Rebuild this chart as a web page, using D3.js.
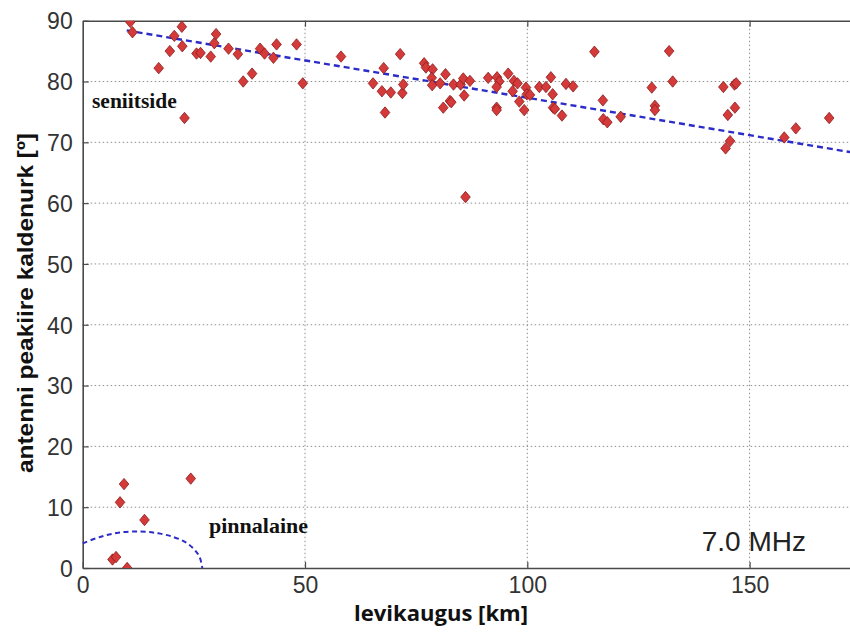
<!DOCTYPE html>
<html>
<head>
<meta charset="utf-8">
<script src="https://cdn.jsdelivr.net/npm/d3@7"></script>
<style>
  body { margin: 0; background: #fff; }
  svg { display: block; }
</style>
</head>
<body>
<script>
// measured points: distance [km] and elevation angle [deg]
var distKm = [10.7, 11.2, 17.1, 19.6, 20.6, 22.3, 22.4, 22.9, 25.6, 26.5,
  28.8, 29.6, 30.0, 32.8, 34.9, 36.1, 38.1, 39.9, 40.9, 42.9,
  43.6, 48.1, 49.5, 58.1, 65.3, 67.3, 67.7, 68.0, 69.3, 71.4,
  71.9, 72.1, 76.8, 77.2, 78.7, 78.5, 78.6, 80.4, 81.6, 81.1,
  82.6, 82.9, 83.4, 85.0, 85.6, 85.8, 87.1, 86.1, 91.2, 93.2,
  93.7, 93.1, 93.1, 93.1, 95.7, 97.0, 97.8, 96.7, 98.2, 99.3,
  99.7, 99.9, 100.6, 102.7, 104.2, 105.3, 105.7, 105.8, 106.2, 107.8,
  108.7, 110.3, 115.1, 117.0, 117.1, 118.0, 121.0, 128.0, 128.7, 128.7,
  131.9, 132.7, 144.1, 145.1, 145.6, 144.6, 146.6, 147.0, 146.7, 157.8,
  160.4, 167.9,
  6.7, 7.5, 8.4, 9.3, 10.0, 13.9, 24.3];
var elevDeg = [89.8, 88.1, 82.2, 85.0, 87.5, 89.0, 85.8, 74.0, 84.6, 84.7,
  84.1, 86.3, 87.8, 85.4, 84.5, 80.0, 81.3, 85.4, 84.6, 83.9,
  86.1, 86.1, 79.7, 84.1, 79.7, 78.4, 82.2, 74.9, 78.2, 84.5,
  78.1, 79.5, 83.0, 82.3, 82.0, 80.6, 79.4, 79.7, 81.2, 75.7,
  76.8, 76.6, 79.5, 79.5, 80.5, 77.7, 80.1, 61.0, 80.6, 80.7,
  80.0, 79.1, 75.7, 75.3, 81.3, 80.1, 79.7, 78.4, 76.7, 75.3,
  79.0, 77.9, 77.8, 79.1, 79.1, 80.7, 77.9, 75.7, 75.5, 74.4,
  79.6, 79.2, 84.9, 76.9, 73.8, 73.3, 74.2, 79.0, 76.0, 75.3,
  85.0, 80.0, 79.1, 74.5, 70.2, 69.0, 79.5, 79.7, 75.7, 70.8,
  72.3, 74.0,
  1.4, 1.8, 10.8, 13.8, 0.0, 7.9, 14.7];

// fitted line (sky wave) end points
var trendX = [9.9, 175];
var trendY = [88.4, 68.1];

// ground wave outline
var groundX = [0, 3.9, 8.0, 12.9, 17.0, 20.4, 23.0, 24.9, 26.3, 26.9];
var groundY = [4.05, 5.1, 5.8, 6.0, 5.7, 5.1, 4.3, 3.2, 1.8, 0];

var xTicks = [0, 50, 100, 150];
var yTicks = [0, 10, 20, 30, 40, 50, 60, 70, 80, 90];

const W = 850, H = 635;
const plotLeft = 82.7, plotTop = 20.7, plotBottom = 568;

var svg = d3.select("body").append("svg")
  .attr("width", W)
  .attr("height", H);

const x = d3.scaleLinear().domain([0, 175]).range([plotLeft, plotLeft + 175 * 4.446]);
const y = d3.scaleLinear().domain([0, 90]).range([plotBottom, plotTop]);

svg.append("clipPath").attr("id", "plot")
  .append("rect")
  .attr("x", plotLeft).attr("y", plotTop)
  .attr("width", W - plotLeft).attr("height", plotBottom - plotTop);

// grid
var grid = svg.append("g").attr("stroke", "#8f8f8f").attr("stroke-width", 1)
  .attr("stroke-dasharray", "1.5,2.5");
grid.selectAll("line.gx")
  .data(xTicks.filter(d => d > 0))
  .enter().append("line")
  .attr("x1", d => x(d)).attr("x2", d => x(d))
  .attr("y1", plotTop).attr("y2", plotBottom);
grid.selectAll("line.gy")
  .data(yTicks.filter(d => d > 0 && d < 90))
  .enter().append("line")
  .attr("x1", plotLeft).attr("x2", W)
  .attr("y1", d => y(d)).attr("y2", d => y(d));

// axes
const xAxis = d3.axisBottom(x).tickValues(xTicks).tickSizeInner(-6).tickSizeOuter(0).tickPadding(9);
const yAxis = d3.axisLeft(y).tickValues(yTicks).tickSizeInner(-6).tickSizeOuter(0).tickPadding(10);

function styleAxis(g) {
  g.select(".domain").attr("stroke", "#4a4a4a").attr("stroke-width", 1.6);
  g.selectAll(".tick line").attr("stroke", "#4a4a4a").attr("stroke-width", 1.2);
  g.selectAll(".tick text")
    .attr("font-family", "Arial, 'Liberation Sans', sans-serif")
    .attr("font-size", 23)
    .attr("fill", "#333");
}

svg.append("g")
  .attr("id", "x-axis")
  .attr("transform", "translate(0," + plotBottom + ")")
  .call(xAxis)
  .call(styleAxis);

svg.append("g")
  .attr("id", "y-axis")
  .attr("transform", "translate(" + plotLeft + ",0)")
  .call(yAxis)
  .call(styleAxis)
  .selectAll(".tick text").attr("dy", "0.36em");

// top border with tick marks
svg.append("g")
  .attr("transform", "translate(0," + plotTop + ")")
  .call(d3.axisTop(x).tickValues(xTicks.filter(d => d > 0)).tickSizeInner(-6).tickSizeOuter(0).tickFormat(""))
  .call(styleAxis);

// fitted line
svg.append("path")
  .attr("clip-path", "url(#plot)")
  .datum(d3.zip(trendX, trendY))
  .attr("d", d3.line().x(d => x(d[0])).y(d => y(d[1])))
  .attr("fill", "none")
  .attr("stroke", "#2c2cc8")
  .attr("stroke-width", 2.4)
  .attr("stroke-dasharray", "6,4");

// ground wave outline
svg.append("path")
  .datum(d3.zip(groundX, groundY))
  .attr("d", d3.line().x(d => x(d[0])).y(d => y(d[1])).curve(d3.curveCatmullRom))
  .attr("fill", "none")
  .attr("stroke", "#2c2cc8")
  .attr("stroke-width", 2)
  .attr("stroke-dasharray", "5,3.5");

// markers
svg.append("g")
  .attr("clip-path", "url(#plot)")
  .selectAll("path.pt")
  .data(d3.zip(distKm, elevDeg))
  .enter().append("path")
  .attr("class", "pt")
  .attr("transform", d => "translate(" + x(d[0]) + "," + y(d[1]) + ")")
  .attr("d", "M0,-5.7L4.8,0L0,5.7L-4.8,0Z")
  .attr("fill", "#d43a3a")
  .attr("stroke", "#8b1c1c")
  .attr("stroke-width", 0.8);

// annotations
svg.append("text")
  .attr("x", 92).attr("y", 108)
  .attr("font-family", "'Liberation Serif', 'Times New Roman', serif")
  .attr("font-weight", "bold")
  .attr("font-size", 21.5)
  .attr("fill", "#111")
  .text("seniitside");

svg.append("text")
  .attr("x", 209).attr("y", 533)
  .attr("font-family", "'Liberation Serif', 'Times New Roman', serif")
  .attr("font-weight", "bold")
  .attr("font-size", 22)
  .attr("fill", "#111")
  .text("pinnalaine");

svg.append("text")
  .attr("x", 806).attr("y", 551)
  .attr("text-anchor", "end")
  .attr("font-family", "Arial, 'Liberation Sans', sans-serif")
  .attr("font-size", 28)
  .attr("fill", "#222")
  .text("7.0 MHz");

// axis titles
svg.append("text")
  .attr("x", 441).attr("y", 621)
  .attr("text-anchor", "middle")
  .attr("font-family", "'Open Sans', Lato, sans-serif")
  .attr("font-weight", "bold")
  .attr("font-size", 21)
  .attr("textLength", 174)
  .attr("lengthAdjust", "spacingAndGlyphs")
  .attr("fill", "#111")
  .text("levikaugus [km]");

svg.append("text")
  .attr("transform", "translate(33,303) rotate(-90)")
  .attr("text-anchor", "middle")
  .attr("font-family", "Arial, 'Liberation Sans', sans-serif")
  .attr("font-weight", "bold")
  .attr("font-size", 22)
  .attr("textLength", 340)
  .attr("lengthAdjust", "spacingAndGlyphs")
  .attr("fill", "#111")
  .text("antenni peakiire kaldenurk [º]");
</script>
</body>
</html>
